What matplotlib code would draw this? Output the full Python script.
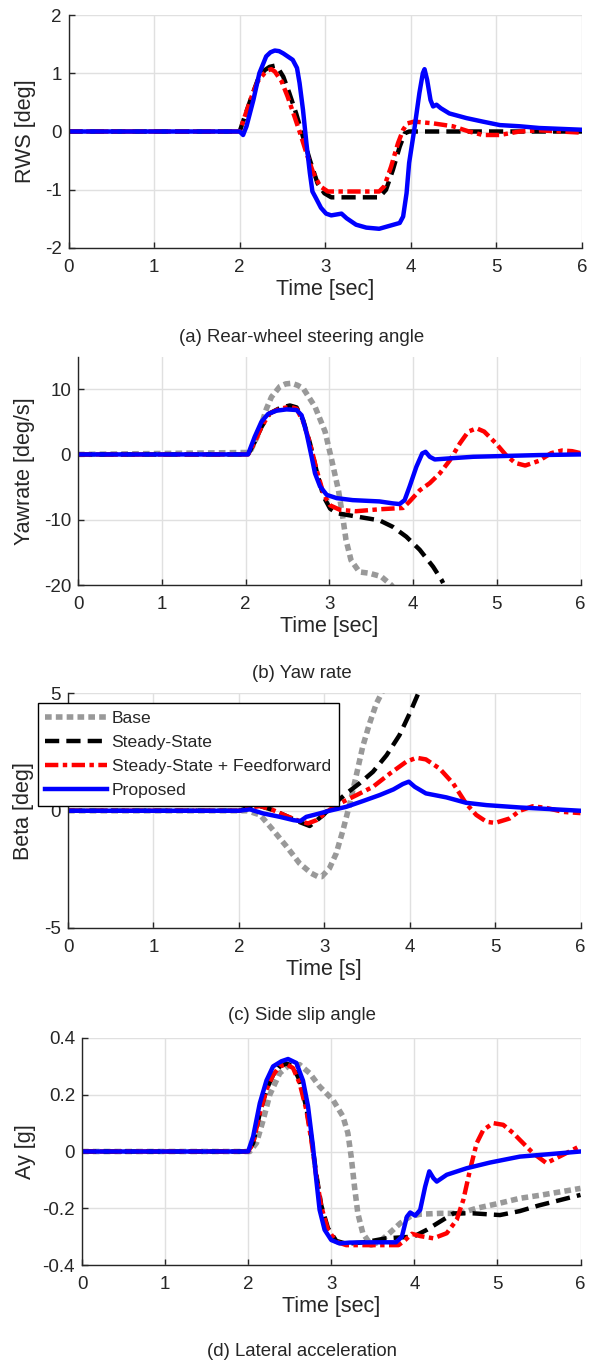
import numpy as np
import matplotlib
matplotlib.use("Agg")
import matplotlib.pyplot as plt

plt.rcParams['font.family'] = ['Liberation Sans', 'DejaVu Sans']
plt.rcParams['axes.unicode_minus'] = False

# (a) rear wheel steering angle [deg]
t_a_black = [0, 2.0, 2.06, 2.14, 2.21, 2.29, 2.35, 2.41, 2.46, 2.51, 2.58, 2.66, 2.74, 2.82, 2.91, 2.99, 3.07, 3.63, 3.71, 3.79, 3.87, 3.93, 3.98, 6.0]
rws_black = [0, 0, 0.26, 0.6, 0.88, 1.05, 1.11, 1.13, 1.06, 0.94, 0.66, 0.31, -0.09, -0.49, -0.89, -1.06, -1.13, -1.13, -1.0, -0.66, -0.26, -0.03, 0, 0]
t_a_red = [0, 2.0, 2.06, 2.14, 2.21, 2.29, 2.33, 2.37, 2.41, 2.49, 2.56, 2.64, 2.72, 2.78, 2.86, 2.94, 3.03, 3.28, 3.63, 3.69, 3.77, 3.85, 3.91, 3.96, 4.04, 4.26, 4.49, 4.68, 4.84, 5.04, 5.27, 5.5, 6.0]
rws_red = [0, 0, 0.26, 0.6, 0.86, 1.0, 1.05, 1.07, 1.03, 0.86, 0.6, 0.26, -0.09, -0.37, -0.71, -0.94, -1.03, -1.03, -1.03, -0.94, -0.6, -0.2, 0.03, 0.14, 0.17, 0.14, 0.09, 0.0, -0.06, -0.06, 0.0, 0.02, -0.02]
t_a_blue = [0, 2.0, 2.04, 2.08, 2.16, 2.23, 2.31, 2.36, 2.41, 2.46, 2.51, 2.62, 2.67, 2.70, 2.74, 2.78, 2.82, 2.85, 2.89, 2.95, 3.01, 3.07, 3.19, 3.25, 3.36, 3.48, 3.63, 3.75, 3.87, 3.91, 3.95, 3.98, 4.04, 4.10, 4.14, 4.16, 4.19, 4.23, 4.26, 4.30, 4.35, 4.45, 4.65, 4.84, 5.04, 5.27, 5.5, 6.0]
rws_blue = [0, 0, -0.06, 0.09, 0.54, 1.0, 1.29, 1.36, 1.39, 1.38, 1.34, 1.23, 1.09, 0.83, 0.37, -0.2, -0.71, -1.03, -1.14, -1.31, -1.41, -1.44, -1.41, -1.49, -1.6, -1.65, -1.67, -1.62, -1.57, -1.46, -1.06, -0.54, 0.03, 0.66, 1.0, 1.07, 0.89, 0.54, 0.43, 0.46, 0.4, 0.31, 0.23, 0.17, 0.11, 0.09, 0.06, 0.03]

# (b) yaw rate [deg/s]
t_b_gray = [0, 2.05, 2.15, 2.25, 2.31, 2.41, 2.48, 2.55, 2.62, 2.69, 2.83, 2.95, 3.03, 3.11, 3.16, 3.20, 3.26, 3.36, 3.48, 3.62, 3.74, 3.80]
yr_gray = [0, 0.3, 3.0, 7.0, 8.8, 10.4, 10.8, 10.9, 10.6, 10.1, 7.3, 3.5, -0.9, -5.5, -9.5, -13.1, -16.2, -18.0, -18.2, -18.7, -20.0, -21.0]
t_b_black = [0, 2.03, 2.11, 2.19, 2.29, 2.41, 2.53, 2.61, 2.69, 2.77, 2.85, 2.93, 3.01, 3.09, 3.32, 3.60, 3.76, 3.92, 4.08, 4.24, 4.34, 4.36]
yr_black = [0, 0, 1.9, 4.2, 6.3, 7.1, 7.5, 7.2, 5.2, 1.7, -2.6, -6.4, -8.3, -9.0, -9.5, -10.1, -11.1, -12.6, -14.6, -17.2, -19.2, -19.7]
t_b_red = [0, 2.03, 2.11, 2.19, 2.29, 2.41, 2.53, 2.61, 2.69, 2.77, 2.85, 2.93, 3.01, 3.13, 3.32, 3.60, 3.88, 3.96, 4.08, 4.20, 4.32, 4.44, 4.56, 4.66, 4.76, 4.85, 4.99, 5.11, 5.22, 5.34, 5.50, 5.65, 5.78, 5.90, 6.0]
yr_red = [0, 0, 1.9, 4.2, 6.3, 7.0, 7.3, 7.0, 5.0, 1.7, -2.4, -6.0, -7.8, -8.5, -8.7, -8.4, -8.2, -7.2, -5.5, -4.4, -2.9, -0.9, 1.7, 3.5, 4.0, 3.5, 1.7, -0.1, -1.3, -1.7, -1.0, 0.2, 0.6, 0.5, 0.2]
t_b_blue = [0, 2.03, 2.11, 2.19, 2.27, 2.37, 2.49, 2.61, 2.67, 2.73, 2.79, 2.83, 2.89, 2.97, 3.09, 3.28, 3.60, 3.76, 3.84, 3.90, 3.96, 4.04, 4.11, 4.15, 4.20, 4.26, 4.44, 4.72, 5.03, 5.5, 6.0]
yr_blue = [0, 0, 2.7, 5.0, 6.2, 6.7, 6.9, 6.8, 6.0, 3.2, -0.4, -2.9, -4.9, -6.2, -6.7, -7.0, -7.2, -7.5, -7.6, -7.0, -4.9, -1.9, 0.15, 0.4, -0.36, -0.77, -0.6, -0.36, -0.26, -0.1, 0.0]

# (c) side slip angle [deg]
t_c_gray = [0, 2.1, 2.25, 2.40, 2.56, 2.71, 2.85, 2.92, 2.97, 3.06, 3.14, 3.22, 3.30, 3.38, 3.45, 3.53, 3.61, 3.67, 3.72]
beta_gray = [0, 0, -0.18, -0.82, -1.53, -2.24, -2.67, -2.8, -2.81, -2.46, -1.82, -0.82, 0.31, 1.59, 2.73, 3.72, 4.57, 5.0, 5.5]
t_c_black = [0, 2.0, 2.13, 2.25, 2.40, 2.56, 2.71, 2.83, 2.99, 3.10, 3.26, 3.41, 3.57, 3.73, 3.88, 4.0, 4.10, 4.13]
beta_black = [0, 0, 0.14, 0.2, 0.03, -0.23, -0.48, -0.65, -0.18, 0.24, 0.74, 1.16, 1.66, 2.37, 3.22, 4.15, 5.0, 5.2]
t_c_red = [0, 2.0, 2.13, 2.25, 2.40, 2.56, 2.71, 2.81, 2.91, 3.03, 3.18, 3.38, 3.57, 3.77, 3.96, 4.08, 4.19, 4.35, 4.51, 4.66, 4.78, 4.90, 5.0, 5.17, 5.29, 5.44, 5.6, 5.8, 6.0]
beta_red = [0, 0, 0.14, 0.2, 0.03, -0.23, -0.44, -0.54, -0.4, -0.04, 0.31, 0.67, 1.02, 1.59, 2.09, 2.26, 2.19, 1.8, 1.16, 0.31, -0.18, -0.47, -0.52, -0.33, 0.0, 0.19, 0.12, -0.05, -0.1]
t_c_blue = [0, 2.0, 2.13, 2.28, 2.48, 2.64, 2.72, 2.79, 2.95, 3.06, 3.26, 3.45, 3.65, 3.81, 3.92, 3.99, 4.06, 4.19, 4.43, 4.66, 4.90, 5.29, 5.6, 6.0]
beta_blue = [0, 0, 0.06, -0.11, -0.26, -0.4, -0.44, -0.26, -0.11, 0, 0.17, 0.41, 0.67, 0.91, 1.14, 1.24, 1.02, 0.74, 0.57, 0.34, 0.24, 0.14, 0.08, 0.0]

# (d) lateral acceleration [g]
t_d_gray = [0, 2.02, 2.10, 2.18, 2.26, 2.38, 2.50, 2.62, 2.74, 2.86, 3.02, 3.14, 3.20, 3.24, 3.28, 3.32, 3.38, 3.48, 3.58, 3.70, 3.83, 3.95, 4.07, 4.31, 4.55, 4.75, 5.03, 5.27, 5.54, 6.0]
ay_gray = [0, 0, 0.03, 0.11, 0.2, 0.276, 0.306, 0.306, 0.276, 0.229, 0.182, 0.124, 0.065, -0.018, -0.124, -0.218, -0.288, -0.33, -0.318, -0.288, -0.253, -0.229, -0.221, -0.218, -0.218, -0.2, -0.182, -0.165, -0.153, -0.13]
t_d_black = [0, 2.0, 2.06, 2.14, 2.22, 2.30, 2.38, 2.46, 2.54, 2.62, 2.70, 2.76, 2.82, 2.88, 2.96, 3.06, 3.18, 3.40, 3.66, 3.99, 4.15, 4.31, 4.47, 4.71, 5.03, 5.27, 5.5, 6.0]
ay_black = [0, 0, 0.03, 0.135, 0.218, 0.27, 0.30, 0.31, 0.30, 0.25, 0.155, 0.05, -0.08, -0.19, -0.27, -0.315, -0.325, -0.32, -0.306, -0.30, -0.276, -0.247, -0.218, -0.218, -0.224, -0.21, -0.19, -0.153]
t_d_red = [0, 2.0, 2.06, 2.14, 2.22, 2.30, 2.38, 2.46, 2.54, 2.62, 2.70, 2.76, 2.82, 2.88, 2.96, 3.06, 3.18, 3.50, 3.81, 3.89, 3.97, 4.07, 4.23, 4.39, 4.51, 4.59, 4.67, 4.75, 4.83, 4.95, 5.07, 5.19, 5.27, 5.43, 5.59, 5.8, 6.0]
ay_red = [0, 0, 0.03, 0.135, 0.218, 0.27, 0.30, 0.308, 0.294, 0.24, 0.147, 0.04, -0.088, -0.194, -0.276, -0.318, -0.33, -0.33, -0.33, -0.312, -0.29, -0.298, -0.306, -0.288, -0.241, -0.17, -0.065, 0.029, 0.076, 0.1, 0.094, 0.065, 0.041, -0.006, -0.041, -0.01, 0.02]
t_d_blue = [0, 2.0, 2.06, 2.14, 2.22, 2.30, 2.40, 2.48, 2.58, 2.66, 2.72, 2.78, 2.82, 2.86, 2.92, 3.0, 3.10, 3.22, 3.50, 3.78, 3.85, 3.91, 3.95, 4.01, 4.07, 4.13, 4.18, 4.23, 4.27, 4.39, 4.63, 4.91, 5.27, 5.6, 6.0]
ay_blue = [0, 0, 0.053, 0.17, 0.25, 0.30, 0.318, 0.326, 0.312, 0.25, 0.16, 0.018, -0.1, -0.206, -0.276, -0.312, -0.324, -0.321, -0.32, -0.32, -0.30, -0.23, -0.215, -0.226, -0.206, -0.124, -0.07, -0.094, -0.106, -0.082, -0.059, -0.039, -0.018, -0.01, 0.0]

legend_labels = ["Base", "Steady-State", "Steady-State + Feedforward", "Proposed"]

W, H = 596, 1364
TXT = (0.15, 0.15, 0.15)

STYLES = {
    "gray": dict(color=(0.6, 0.6, 0.6), lw=4.0, dashes=(1.2, 0.75), dash_capstyle="butt"),
    "black": dict(color="k", lw=3.2, dashes=(3.2, 1.6), dash_capstyle="butt"),
    "red": dict(color=(1, 0, 0), lw=3.2, dashes=(3.0, 1.0, 1.0, 1.0), dash_capstyle="butt"),
    "blue": dict(color=(0, 0, 1), lw=3.2),
}


def MakeAxes(fig, x0, x1, y0, y1):
    ax = fig.add_axes([x0 / W, 1 - y1 / H, (x1 - x0) / W, (y1 - y0) / H])
    return ax


def StyleAxes(ax, ylim, yticks, ylabel, xlabel, ylabelX):
    ax.set_xlim(0, 6)
    ax.set_ylim(*ylim)
    ax.set_xticks(range(7))
    ax.set_yticks(yticks)
    ax.set_yticklabels(["%g" % v for v in yticks])
    ax.grid(True, color=(0.88, 0.88, 0.88), lw=1.0)
    ax.set_axisbelow(True)
    for s in ["top", "right"]:
        ax.spines[s].set_visible(False)
    for s in ["left", "bottom"]:
        ax.spines[s].set_color(TXT)
        ax.spines[s].set_linewidth(1.0)
    ax.tick_params(direction="in", length=4, width=1, colors=TXT, labelsize=13.5)
    ax.tick_params(axis="x", pad=8)
    ax.tick_params(axis="y", pad=5)
    ax.set_xlabel(xlabel, fontsize=15.5, color=TXT, labelpad=2)
    ax.set_ylabel(ylabel, fontsize=15.5, color=TXT, va="center")
    ax.yaxis.set_label_coords(ylabelX, 0.5)


fig = plt.figure(figsize=(W / 100, H / 100), dpi=100)

# (a)
ax = MakeAxes(fig, 68.5, 582, 15, 248)
ax.plot(t_a_black, rws_black, **STYLES["black"])
ax.plot(t_a_red, rws_red, **STYLES["red"])
ax.plot(t_a_blue, rws_blue, **STYLES["blue"])
StyleAxes(ax, (-2, 2), [-2, -1, 0, 1, 2], "RWS [deg]", "Time [sec]", (25 - 68.5) / 513.5)

# (b)
ax = MakeAxes(fig, 78, 580.5, 356.5, 585)
ax.plot(t_b_gray, yr_gray, **STYLES["gray"])
ax.plot(t_b_black, yr_black, **STYLES["black"])
ax.plot(t_b_red, yr_red, **STYLES["red"])
ax.plot(t_b_blue, yr_blue, **STYLES["blue"])
StyleAxes(ax, (-20, 15), [-20, -10, 0, 10], "Yawrate [deg/s]", "Time [sec]", (25 - 78) / 502.5)

# (c)
ax = MakeAxes(fig, 68, 580.5, 693.5, 928)
h1, = ax.plot(t_c_gray, beta_gray, **STYLES["gray"])
h2, = ax.plot(t_c_black, beta_black, **STYLES["black"])
h3, = ax.plot(t_c_red, beta_red, **STYLES["red"])
h4, = ax.plot(t_c_blue, beta_blue, **STYLES["blue"])
StyleAxes(ax, (-5, 5), [-5, 0, 5], "Beta [deg]", "Time [s]", (23 - 68) / 512.5)
leg = ax.legend([h1, h2, h3, h4], legend_labels, loc="upper left",
                bbox_to_anchor=(37.5 / W, 1 - 703 / H), bbox_transform=fig.transFigure,
                fontsize=12.6, handlelength=3.5, handletextpad=0.28, labelspacing=0.5,
                borderpad=0.45, borderaxespad=0, fancybox=False, framealpha=1,
                edgecolor="k")
leg.get_frame().set_linewidth(1.0)
for txt in leg.get_texts():
    txt.set_color(TXT)

# (d)
ax = MakeAxes(fig, 82, 580.5, 1038, 1265)
ax.plot(t_d_gray, ay_gray, **STYLES["gray"])
ax.plot(t_d_black, ay_black, **STYLES["black"])
ax.plot(t_d_red, ay_red, **STYLES["red"])
ax.plot(t_d_blue, ay_blue, **STYLES["blue"])
StyleAxes(ax, (-0.4, 0.4), [-0.4, -0.2, 0, 0.2, 0.4], "Ay [g]", "Time [sec]", (25 - 82) / 498.5)

captions = ["(a) Rear-wheel steering angle", "(b) Yaw rate", "(c) Side slip angle", "(d) Lateral acceleration"]
captionY = [337, 673, 1016, 1352]
for cap, cy in zip(captions, captionY):
    fig.text(302 / W, 1 - cy / H, cap, ha="center", va="center", fontsize=13.4, color=TXT)

fig.savefig("out.png", dpi=100)
